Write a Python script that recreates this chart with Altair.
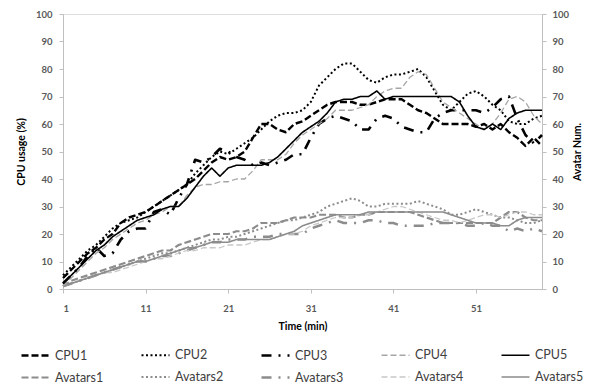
import altair as alt
import pandas as pd

minutes = list(range(1, 60))

cpu1 = [4, 7, 10, 13, 15, 18, 20, 24, 26, 27, 28, 30, 32, 34, 36, 38, 40, 43, 46, 48,
        47, 48, 50, 55, 60, 60, 58, 57, 60, 61, 63, 65, 67, 68, 68, 68, 67, 67, 68, 69,
        69, 69, 67, 65, 64, 62, 60, 60, 60, 60, 59, 60, 58, 60, 57, 55, 52, 55, 52]
cpu2 = [5, 8, 11, 14, 16, 19, 22, 24, 25, 26, 28, 30, 32, 34, 36, 38, 42, 45, 48, 50,
        49, 51, 53, 55, 58, 61, 63, 64, 64, 65, 68, 74, 77, 80, 82, 82, 79, 76, 75, 77,
        78, 78, 79, 80, 77, 72, 67, 65, 68, 71, 72, 70, 67, 65, 61, 60, 60, 62, 63]
cpu3 = [2, 5, 8, 12, 15, 12, 13, 18, 21, 22, 22, 28, 29, 27, 33, 38, 47, 46, 48, 51,
        50, 48, 47, 45, 46, 45, 46, 47, 49, 49, 55, 60, 62, 63, 62, 61, 58, 58, 62, 63,
        62, 59, 58, 57, 57, 62, 64, 65, 65, 65, 65, 64, 66, 69, 70, 62, 56, 53, 56]
cpu4 = [1, 4, 7, 10, 13, 15, 18, 20, 22, 24, 25, 27, 28, 30, 30, 34, 37, 38, 38, 39,
        39, 40, 40, 43, 47, 47, 47, 49, 53, 56, 58, 60, 62, 65, 65, 65, 66, 67, 70, 72,
        73, 73, 77, 79, 78, 73, 68, 66, 64, 62, 60, 58, 60, 64, 69, 70, 68, 63, 60]
cpu5 = [2, 5, 8, 11, 14, 16, 19, 21, 23, 25, 26, 27, 29, 30, 30, 33, 37, 41, 44, 41,
        44, 45, 45, 45, 45, 46, 48, 51, 54, 57, 59, 61, 64, 68, 69, 69, 70, 70, 72, 69,
        70, 70, 70, 70, 70, 70, 70, 70, 68, 63, 59, 58, 60, 58, 62, 64, 65, 65, 65]

av1 = [1, 3, 4, 5, 6, 7, 8, 9, 10, 11, 12, 13, 14, 14, 16, 17, 18, 19, 20, 20,
       20, 21, 21, 22, 24, 24, 24, 25, 26, 26, 26, 27, 27, 27, 26, 26, 27, 27, 28, 28,
       28, 28, 28, 27, 26, 25, 24, 24, 24, 24, 24, 24, 24, 26, 28, 28, 26, 25, 25]
av2 = [1, 2, 3, 4, 5, 6, 7, 8, 9, 10, 11, 12, 13, 13, 14, 15, 16, 17, 18, 18,
       19, 19, 20, 21, 22, 23, 24, 25, 25, 26, 27, 28, 30, 31, 32, 33, 32, 30, 30, 31,
       31, 31, 31, 32, 31, 30, 29, 27, 27, 28, 29, 28, 27, 26, 26, 25, 24, 24, 25]
av3 = [1, 2, 3, 4, 5, 6, 7, 8, 9, 10, 10, 11, 12, 12, 13, 14, 15, 16, 17, 17,
       18, 18, 18, 19, 19, 19, 20, 20, 20, 20, 22, 23, 24, 25, 24, 24, 24, 25, 25, 24,
       24, 23, 23, 23, 23, 24, 24, 24, 24, 23, 23, 24, 23, 23, 21, 22, 21, 22, 21]
av4 = [1, 2, 3, 4, 5, 6, 6, 7, 8, 9, 10, 11, 11, 12, 13, 14, 14, 15, 15, 15,
       16, 16, 16, 17, 18, 18, 19, 20, 20, 21, 23, 24, 25, 26, 26, 26, 27, 27, 28, 29,
       30, 30, 29, 28, 27, 26, 25, 25, 24, 25, 26, 27, 27, 26, 27, 28, 28, 27, 27]
av5 = [1, 2, 3, 4, 5, 6, 7, 8, 9, 10, 10, 11, 12, 13, 14, 15, 15, 16, 17, 17,
       17, 18, 18, 18, 18, 18, 19, 20, 21, 23, 24, 25, 26, 27, 27, 27, 27, 28, 28, 28,
       28, 28, 28, 28, 28, 28, 28, 27, 26, 25, 24, 24, 24, 23, 23, 25, 26, 26, 26]

series_names = ["CPU1", "CPU2", "CPU3", "CPU4", "CPU5",
                "Avatars1", "Avatars2", "Avatars3", "Avatars4", "Avatars5"]
series_values = [cpu1, cpu2, cpu3, cpu4, cpu5, av1, av2, av3, av4, av5]
x_ticks = [1, 11, 21, 31, 41, 51]

colors = ["#000000", "#000000", "#000000", "#a6a6a6", "#000000",
          "#8c8c8c", "#8c8c8c", "#8c8c8c", "#c8c8c8", "#8c8c8c"]
dashes = [[7, 3], [2, 2.5], [10, 7, 2, 7], [6, 3], [1, 0],
          [7, 3], [2, 2.5], [10, 7, 2, 7], [6, 3], [1, 0]]
widths = [2.4, 2.0, 2.6, 1.3, 1.6, 2.2, 2.0, 2.4, 1.3, 1.6]

rows = []
for name, vals in zip(series_names, series_values):
    grp = "CPU" if name.startswith("CPU") else "Avatars"
    for t, v in zip(minutes, vals):
        rows.append({"t": t, "v": v, "series": name, "grp": grp})
df = pd.DataFrame(rows)

FONT = "Lato"
LABEL_COLOR = "#595959"
AXIS_COLOR = "#bfbfbf"

legend = alt.Legend(
    title=None, orient="none", direction="horizontal", legendX=-43, legendY=326, columns=5,
    symbolType="stroke", symbolSize=784, labelFont=FONT, labelFontSize=12.5,
    labelColor="#404040", columnPadding=32, rowPadding=-2, gridAlign="all",
    labelOffset=4,
)

color_enc = alt.Color("series:N", scale=alt.Scale(domain=series_names, range=colors), legend=legend)
dash_enc = alt.StrokeDash("series:N", scale=alt.Scale(domain=series_names, range=dashes), legend=legend)
width_enc = alt.StrokeWidth("series:N", scale=alt.Scale(type="ordinal", domain=series_names, range=widths), legend=legend)

x_enc = alt.X(
    "t:Q",
    scale=alt.Scale(domain=[1, 59], nice=False, zero=False),
    axis=alt.Axis(title="Time (min)", values=x_ticks, grid=False, domainColor=AXIS_COLOR,
                  tickColor=AXIS_COLOR, tickSize=4, labelPadding=10, labelFont=FONT,
                  labelFontSize=9.5, labelFontWeight="bold", labelColor=LABEL_COLOR,
                  titleFont=FONT, titleFontSize=10.5, titleFontWeight="bold",
                  titleColor="#000000", titlePadding=9),
)

base = alt.Chart(df)

cpu_layer = base.transform_filter(alt.datum.grp == "CPU").mark_line(strokeCap="butt", strokeJoin="round").encode(
    x=x_enc,
    y=alt.Y("v:Q", scale=alt.Scale(domain=[0, 100]),
            axis=alt.Axis(title="CPU usage (%)", orient="left", values=list(range(0, 101, 10)),
                          grid=False, domainColor=AXIS_COLOR, tickColor=AXIS_COLOR, tickSize=4,
                          labelPadding=7, labelFont=FONT, labelFontSize=9.5,
                          labelFontWeight="bold", labelColor=LABEL_COLOR, titleFont=FONT,
                          titleFontSize=10.5, titleFontWeight="bold", titleColor="#000000",
                          titlePadding=9)),
    color=color_enc, strokeDash=dash_enc, strokeWidth=width_enc, detail="series:N",
)

av_layer = base.transform_filter(alt.datum.grp == "Avatars").mark_line(strokeCap="butt", strokeJoin="round").encode(
    x=x_enc,
    y=alt.Y("v:Q", scale=alt.Scale(domain=[0, 100]),
            axis=alt.Axis(title="Avatar Num.", orient="right", values=list(range(0, 101, 10)),
                          grid=False, domainColor=AXIS_COLOR, tickColor=AXIS_COLOR, tickSize=4,
                          labelPadding=6, labelFont=FONT, labelFontSize=9.5,
                          labelFontWeight="bold", labelColor=LABEL_COLOR, titleFont=FONT,
                          titleFontSize=10.5, titleFontWeight="bold", titleColor="#000000",
                          titleAngle=270, titlePadding=14)),
    color=color_enc, strokeDash=dash_enc, strokeWidth=width_enc, detail="series:N",
)

chart = alt.layer(av_layer, cpu_layer).resolve_scale(y="independent").properties(
    width=479, height=275,
    autosize=alt.AutoSizeParams(type="none"),
    padding={"left": 55, "top": 6, "right": 46, "bottom": 98},
).configure_view(stroke=None).configure(background="white")

chart.save("out.html", embed_options={"renderer": "svg", "actions": False})
